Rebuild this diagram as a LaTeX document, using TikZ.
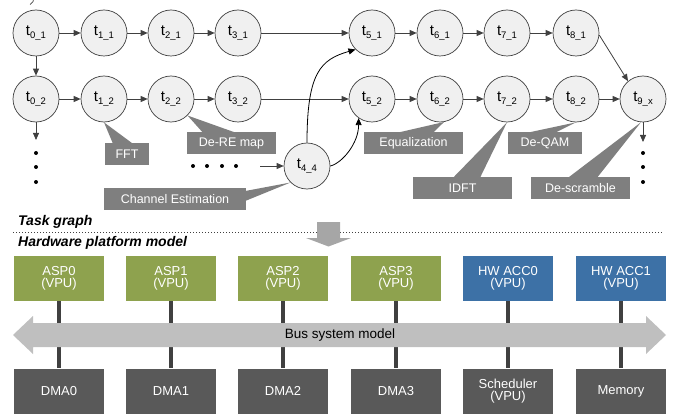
\documentclass[tikz,border=0pt]{standalone}
\usepackage{fontspec}
\setmainfont{Liberation Sans}
\usetikzlibrary{arrows.meta}

\definecolor{edgec}{HTML}{404040}
\definecolor{nodefill}{HTML}{F0F0F0}
\definecolor{calloutc}{HTML}{7F7F7F}
\definecolor{aspgreen}{HTML}{8EA24E}
\definecolor{accblue}{HTML}{3D71A6}
\definecolor{dmagray}{HTML}{595959}
\definecolor{busgray}{HTML}{BFBFBF}
\definecolor{mapgray}{HTML}{A6A6A6}

\pgfdeclarelayer{under}
\pgfsetlayers{under,main}

\newcommand{\tlabel}[1]{t\raisebox{-3pt}{\fontsize{9.5}{9.5}\selectfont #1}}

\begin{document}
\begin{tikzpicture}[x=1pt,y=-1pt,
  task/.style={circle, draw=edgec, fill=nodefill, line width=0.7pt, minimum size=46pt,
    inner sep=0pt, font=\fontsize{15}{15}\selectfont},
  flow/.style={draw=edgec, line width=0.8pt, -{Triangle[length=7pt,width=6pt]}},
  link/.style={draw=black, line width=0.8pt, -{Triangle[length=7pt,width=6pt]}},
  callbox/.style={fill=calloutc, text=white, minimum height=22pt, inner sep=0pt,
    font=\fontsize{12.5}{12.5}\selectfont},
  dot/.style={circle, fill=black, inner sep=0pt, minimum size=4pt},
  unit/.style={minimum width=90pt, minimum height=45pt, inner sep=0pt, text=white,
    align=center, font=\fontsize{13}{11.5}\selectfont},
  asp/.style={unit, fill=aspgreen},
  acc/.style={unit, fill=accblue},
  dma/.style={unit, fill=dmagray},
  heading/.style={font=\fontsize{14}{14}\selectfont\bfseries\itshape, anchor=base west, inner sep=0pt},
  wire/.style={draw=edgec, line width=4pt},
]
\useasboundingbox (0,0) rectangle (676,414);

% tail of a parenthesis running off the top edge
\draw[edgec, line width=0.7pt] (33.5,-1) .. controls (33.5,1.5) .. (30,4.5);

% ---------- tasks ----------
\node[task] (t01) at (36,33) {\tlabel{0\_1}};
\node[task] (t11) at (104,33) {\tlabel{1\_1}};
\node[task] (t21) at (171,33) {\tlabel{2\_1}};
\node[task] (t31) at (238,33) {\tlabel{3\_1}};
\node[task] (t51) at (372,33) {\tlabel{5\_1}};
\node[task] (t61) at (440,33) {\tlabel{6\_1}};
\node[task] (t71) at (507,33) {\tlabel{7\_1}};
\node[task] (t81) at (576,33) {\tlabel{8\_1}};
\node[task] (t02) at (36,99) {\tlabel{0\_2}};
\node[task] (t12) at (104,99) {\tlabel{1\_2}};
\node[task] (t22) at (171,99) {\tlabel{2\_2}};
\node[task] (t32) at (238,99) {\tlabel{3\_2}};
\node[task] (t52) at (372,99) {\tlabel{5\_2}};
\node[task] (t62) at (440,99) {\tlabel{6\_2}};
\node[task] (t72) at (507,99) {\tlabel{7\_2}};
\node[task] (t82) at (576,99) {\tlabel{8\_2}};
\node[task] (t9x) at (643,99) {\tlabel{9\_x}};
\node[task] (t44) at (307,166) {\tlabel{4\_4}};

% ---------- callouts ----------
\node[callbox, minimum width=44pt] (fft) at (127,154) {FFT};
\node[callbox, minimum width=89pt] (dere) at (231.5,143) {De-RE map};
\node[callbox, minimum width=142pt] (chest) at (175,199) {Channel Estimation};
\node[callbox, minimum width=99pt] (equal) at (413.5,143) {Equalization};
\node[callbox, minimum width=99pt] (idft) at (462.5,188) {IDFT};
\node[callbox, minimum width=74pt] (deqam) at (545,143) {De-QAM};
\node[callbox, minimum width=99pt] (descr) at (580.5,188) {De-scramble};

% pointers run under the circles
\begin{pgfonlayer}{under}
\fill[calloutc] ([xshift=-14pt,yshift=-1pt]fft.north) -- ([xshift=6pt,yshift=-1pt]fft.north) -- (t12.south) -- cycle;
\fill[calloutc] ([xshift=-28.5pt,yshift=-1pt]dere.north) -- ([xshift=4.5pt,yshift=-1pt]dere.north) -- (t22.-45) -- cycle;
\fill[calloutc] ([xshift=-1pt,yshift=8pt]chest.east) -- ([xshift=-1pt,yshift=-2pt]chest.east) -- (t44.225) -- cycle;
\fill[calloutc] ([xshift=-16.5pt,yshift=-1pt]equal.north) -- ([xshift=19.5pt,yshift=-1pt]equal.north) -- (t62.-80) -- cycle;
\fill[calloutc] ([xshift=-9.5pt,yshift=-1pt]idft.north) -- ([xshift=17.5pt,yshift=-1pt]idft.north) -- (t72.south) -- cycle;
\fill[calloutc] ([xshift=-18pt,yshift=-1pt]deqam.north) -- ([xshift=10pt,yshift=-1pt]deqam.north) -- (t82.south) -- cycle;
\fill[calloutc] ([xshift=-12.5pt,yshift=-1pt]descr.north) -- ([xshift=16.5pt,yshift=-1pt]descr.north) -- (t9x.-95) -- cycle;
\end{pgfonlayer}

% ---------- task edges ----------
\draw[flow] (t01) -- (t11);
\draw[flow] (t11) -- (t21);
\draw[flow] (t21) -- (t31);
\draw[flow] (t31) -- (t51);
\draw[flow] (t51) -- (t61);
\draw[flow] (t61) -- (t71);
\draw[flow] (t71) -- (t81);
\draw[flow] (t81.-5) -- (t9x.130);
\draw[flow] (t02) -- (t12);
\draw[flow] (t12) -- (t22);
\draw[flow] (t22) -- (t32);
\draw[flow] (t32) -- (t52);
\draw[flow] (t52) -- (t62);
\draw[flow] (t62) -- (t72);
\draw[flow] (t72) -- (t82);
\draw[flow] (t82) -- (t9x);
\draw[flow] (t01) -- (t02);

\coordinate (downL) at (36,140);
\coordinate (downR) at (643,142);
\coordinate (feed) at (260,166);
\draw[flow] (t02) -- (downL);
\draw[flow] (t9x) -- (downR);
\draw[flow] (feed) -- (t44);

\draw[link] (t44.north) .. controls +(0,-70) and +(-35,10) .. (t51.225);
\draw[link] (t44.east) .. controls +(12,-3) and +(0,25) .. (t52.235);

% continuation dots
\foreach \y [count=\i] in {153,167,182} {
  \node[dot] (ldot\i) at (36,\y) {};
  \node[dot] (rdot\i) at (643,\y) {};
}
\foreach \x [count=\i] in {193,207,222,236}
  \node[dot] (hdot\i) at (\x,166) {};

% ---------- separator ----------
\node[heading] (tg) at (18,225) {Task graph};
\coordinate (sepL) at (13,232);
\coordinate (sepR) at (662,232);
\draw[edgec, line width=0.8pt, dash pattern=on 0.8pt off 2.2pt] (sepL) -- (sepR);
\fill[mapgray] (317,222) -- (340,222) -- (340,238) -- (351,238) -- (328.5,246.5) -- (306,238) -- (317,238) -- cycle;
\node[heading] (hw) at (18,246) {Hardware platform model};

% ---------- hardware platform ----------
\node[asp] (asp0) at (59,278.5) {ASP0\\(VPU)};
\node[asp] (asp1) at (171,278.5) {ASP1\\(VPU)};
\node[asp] (asp2) at (283,278.5) {ASP2\\(VPU)};
\node[asp] (asp3) at (396,278.5) {ASP3\\(VPU)};
\node[acc] (acc0) at (508,278.5) {HW ACC0\\(VPU)};
\node[acc] (acc1) at (621,278.5) {HW ACC1\\(VPU)};

\node[dma] (dma0) at (59,391) {DMA0};
\node[dma] (dma1) at (171,391) {DMA1};
\node[dma] (dma2) at (283,391) {DMA2};
\node[dma] (dma3) at (396,391) {DMA3};
\node[dma] (sched) at (508,391) {Scheduler\\(VPU)};
\node[dma] (mem) at (621,391) {Memory};

\draw[wire] (asp0) -- (dma0);
\draw[wire] (asp1) -- (dma1);
\draw[wire] (asp2) -- (dma2);
\draw[wire] (asp3) -- (dma3);
\draw[wire] (acc0) -- (sched);
\draw[wire] (acc1) -- (mem);

% bus: a double-headed block arrow over the wires
\fill[busgray] (13,335) -- (33,316) -- (33,323) -- (646,323) -- (646,316) -- (666,335)
  -- (646,354) -- (646,347) -- (33,347) -- (33,354) -- cycle;
\node[font=\fontsize{13.5}{13.5}\selectfont, inner sep=0pt] (bus) at (340,335) {Bus system model};

\end{tikzpicture}
\end{document}
